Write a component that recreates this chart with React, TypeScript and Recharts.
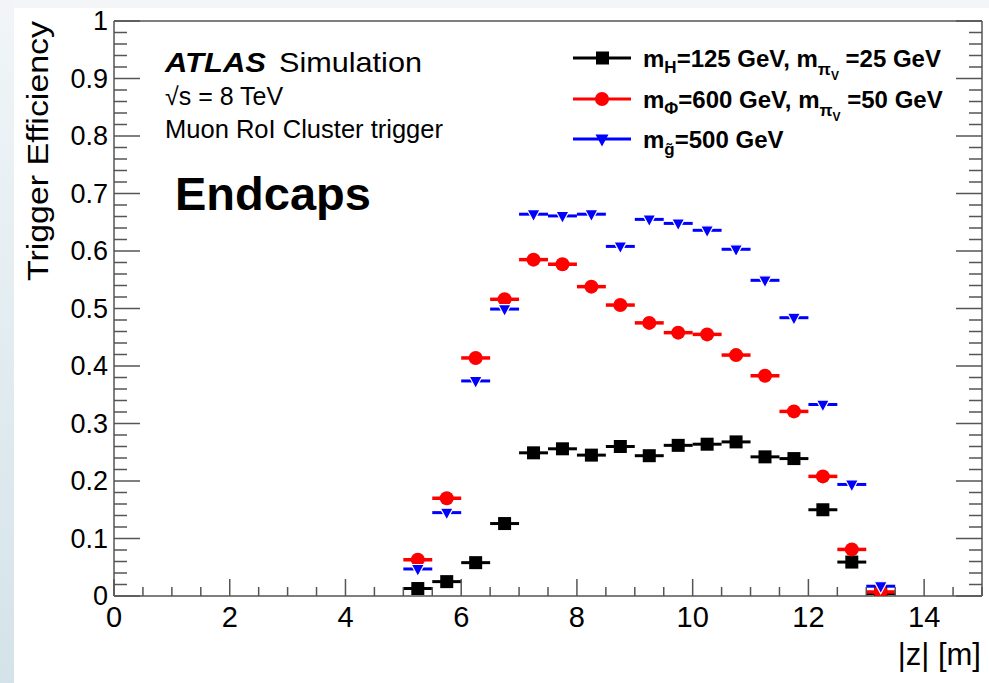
import React from "react";
import { ScatterChart, Scatter, XAxis, YAxis, ErrorBar } from "recharts";

// bin centres in |z| [m], bins are 0.5 m wide
const Z_BINS = [5.25, 5.75, 6.25, 6.75, 7.25, 7.75, 8.25, 8.75, 9.25, 9.75, 10.25, 10.75, 11.25, 11.75, 12.25, 12.75, 13.25];
const BIN_HALF = 0.25;

const EFF_HIGGS = [0.013, 0.025, 0.058, 0.126, 0.249, 0.256, 0.245, 0.26, 0.244, 0.262, 0.264, 0.268, 0.242, 0.239, 0.15, 0.059, 0.004];
const EFF_PHI = [0.063, 0.17, 0.414, 0.516, 0.585, 0.577, 0.538, 0.506, 0.475, 0.458, 0.455, 0.419, 0.383, 0.321, 0.208, 0.081, 0.007];
const EFF_GLUINO = [0.047, 0.145, 0.374, 0.499, 0.664, 0.661, 0.664, 0.608, 0.655, 0.648, 0.636, 0.603, 0.549, 0.484, 0.333, 0.194, 0.017];

const X_MAJOR = [0, 2, 4, 6, 8, 10, 12, 14];
const X_LABELS = ["0", "2", "4", "6", "8", "10", "12", "14"];
const Y_MAJOR = [0, 0.1, 0.2, 0.3, 0.4, 0.5, 0.6, 0.7, 0.8, 0.9, 1];
const Y_LABELS = ["0", "0.1", "0.2", "0.3", "0.4", "0.5", "0.6", "0.7", "0.8", "0.9", "1"];
const X_TICKS = Array.from({ length: 31 }, (_, i) => i * 0.5);
const Y_TICKS = Array.from({ length: 51 }, (_, i) => +(i * 0.02).toFixed(2));

const rows = (eff: number[]) => Z_BINS.map((z, i) => ({ z, eff: eff[i], ez: BIN_HALF }));
const higgs = rows(EFF_HIGGS);
const phi = rows(EFF_PHI);
const gluino = rows(EFF_GLUINO);

const FONT = "'Liberation Sans', Arial, sans-serif";
const AXIS = "#555";
const BLACK = "#000000";
const RED = "#ff0000";
const BLUE = "#0000ff";

const majorIndex = (list: number[], v: number) => list.findIndex((m) => Math.abs(m - v) < 1e-6);

function BottomTick({ x, y, payload }: any) {
  const i = majorIndex(X_MAJOR, payload.value);
  const len = i >= 0 ? 17 : 9;
  return (
    <g>
      <line x1={x} x2={x} y1={y} y2={y - len} stroke={AXIS} strokeWidth={1.5} />
      {i >= 0 && (
        <text x={x} y={y + 31} textAnchor="middle" fontSize={29} fontFamily={FONT} fill="#000">
          {X_LABELS[i]}
        </text>
      )}
    </g>
  );
}

function TopTick({ x, y, payload }: any) {
  const len = majorIndex(X_MAJOR, payload.value) >= 0 ? 17 : 9;
  return <line x1={x} x2={x} y1={y} y2={y + len} stroke={AXIS} strokeWidth={1.5} />;
}

function LeftTick({ x, y, payload }: any) {
  const i = majorIndex(Y_MAJOR, payload.value);
  const len = i >= 0 ? 26 : 13;
  return (
    <g>
      <line x1={x} x2={x + len} y1={y} y2={y} stroke={AXIS} strokeWidth={1.5} />
      {i >= 0 && (
        <text x={x - 6} y={y + 9} textAnchor="end" fontSize={27} fontFamily={FONT} fill="#000">
          {Y_LABELS[i]}
        </text>
      )}
    </g>
  );
}

function RightTick({ x, y, payload }: any) {
  const len = majorIndex(Y_MAJOR, payload.value) >= 0 ? 26 : 13;
  return <line x1={x} x2={x - len} y1={y} y2={y} stroke={AXIS} strokeWidth={1.5} />;
}

const square = (p: any) => <rect x={p.cx - 6.5} y={p.cy - 6.5} width={13} height={13} fill={BLACK} />;
const circle = (p: any) => <circle cx={p.cx} cy={p.cy} r={7} fill={RED} />;
const triangle = (p: any) => (
  <path
    d={`M${p.cx - 6.5},${p.cy - 4.5} L${p.cx + 6.5},${p.cy - 4.5} L${p.cx},${p.cy + 7.5} Z`}
    fill={BLUE}
    stroke="#fff"
    strokeWidth={1.2}
  />
);

function Overlay() {
  const sub = 17;
  return (
    <svg width={989} height={683} style={{ position: "absolute", left: 0, top: 0, pointerEvents: "none" }}>
      <g fontFamily={FONT} fill="#000">
        <text x={40} y={21} transform="rotate(-90 40 21)" textAnchor="end" fontSize={30}>
          <tspan x={40} dy={8} textLength={260} lengthAdjust="spacingAndGlyphs">Trigger Efficiency</tspan>
        </text>
        <text x={981} y={665} textAnchor="end" fontSize={31}>|z| [m]</text>

        <text x={165} y={72} fontSize={28} fontWeight="bold" fontStyle="italic" textLength={101} lengthAdjust="spacingAndGlyphs">ATLAS</text>
        <text x={279} y={72} fontSize={28} textLength={143} lengthAdjust="spacingAndGlyphs">Simulation</text>
        <text x={165} y={105} fontSize={25}>√s = 8 TeV</text>
        <text x={165} y={138} fontSize={25} textLength={278} lengthAdjust="spacingAndGlyphs">Muon RoI Cluster trigger</text>
        <text x={175} y={210} fontSize={47} fontWeight="bold">Endcaps</text>

        <g fontWeight="bold" fontSize={24}>
          <line x1={573} x2={631} y1={58} y2={58} stroke={BLACK} strokeWidth={3} />
          <rect x={596} y={51.5} width={13} height={13} fill={BLACK} />
          <text x={643} y={67}>
            m<tspan dy={6} fontSize={sub}>H</tspan>
            <tspan dy={-6}>=125 GeV, m</tspan>
            <tspan dy={8} fontSize={sub}>π</tspan>
            <tspan dy={5} fontSize={12}>V</tspan>
            <tspan dy={-13}> =25 GeV</tspan>
          </text>

          <line x1={573} x2={631} y1={99} y2={99} stroke={RED} strokeWidth={3} />
          <circle cx={602} cy={99} r={7} fill={RED} />
          <text x={643} y={108}>
            m<tspan dy={6} fontSize={sub}>Φ</tspan>
            <tspan dy={-6}>=600 GeV, m</tspan>
            <tspan dy={8} fontSize={sub}>π</tspan>
            <tspan dy={5} fontSize={12}>V</tspan>
            <tspan dy={-13}> =50 GeV</tspan>
          </text>

          <line x1={573} x2={631} y1={139} y2={139} stroke={BLUE} strokeWidth={3} />
          <path d="M595.5,134.5 L608.5,134.5 L602,146.5 Z" fill={BLUE} />
          <text x={643} y={148}>
            m<tspan dy={7} fontSize={sub}>g̃</tspan>
            <tspan dy={-7}>=500 GeV</tspan>
          </text>
        </g>
      </g>
    </svg>
  );
}

export default function App() {
  const axisLine = { stroke: AXIS, strokeWidth: 1.5 };
  return (
    <div style={{ position: "absolute", left: 0, top: 0, width: 989, height: 683, background: "#fff", overflow: "hidden" }}>
      <div style={{ position: "absolute", left: 0, top: 0, width: 989, height: 8, background: "#f3f5f6" }} />
      <div
        style={{
          position: "absolute",
          left: 0,
          top: 0,
          width: 14,
          height: 683,
          background: "linear-gradient(#f1f5f7, #d4e3e9)",
        }}
      />
      <div style={{ position: "absolute", left: 0, top: 0 }}>
        <ScatterChart width={989} height={683} margin={{ top: 20, right: 6, bottom: 86, left: 113 }}>
          <XAxis
            type="number"
            dataKey="z"
            domain={[0, 15]}
            ticks={X_TICKS}
            interval={0}
            height={1}
            tickSize={0}
            tickMargin={0}
            tickLine={false}
            axisLine={axisLine}
            tick={(p: any) => <BottomTick {...p} />}
            allowDataOverflow
          />
          <XAxis
            xAxisId="top"
            orientation="top"
            type="number"
            domain={[0, 15]}
            ticks={X_TICKS}
            interval={0}
            height={1}
            tickSize={0}
            tickMargin={0}
            tickLine={false}
            axisLine={axisLine}
            tick={(p: any) => <TopTick {...p} />}
            allowDataOverflow
          />
          <YAxis
            type="number"
            dataKey="eff"
            domain={[0, 1]}
            ticks={Y_TICKS}
            interval={0}
            width={1}
            tickSize={0}
            tickMargin={0}
            tickLine={false}
            axisLine={axisLine}
            tick={(p: any) => <LeftTick {...p} />}
            allowDataOverflow
          />
          <YAxis
            yAxisId="right"
            orientation="right"
            type="number"
            domain={[0, 1]}
            ticks={Y_TICKS}
            interval={0}
            width={1}
            tickSize={0}
            tickMargin={0}
            tickLine={false}
            axisLine={axisLine}
            tick={(p: any) => <RightTick {...p} />}
            allowDataOverflow
          />
          <Scatter data={higgs} dataKey="eff" fill={BLACK} shape={square} isAnimationActive={false}>
            <ErrorBar dataKey="ez" direction="x" width={0} stroke={BLACK} strokeWidth={3} />
          </Scatter>
          <Scatter data={phi} dataKey="eff" fill={RED} shape={circle} isAnimationActive={false}>
            <ErrorBar dataKey="ez" direction="x" width={0} stroke={RED} strokeWidth={3.5} />
          </Scatter>
          <Scatter data={gluino} dataKey="eff" fill={BLUE} shape={triangle} isAnimationActive={false}>
            <ErrorBar dataKey="ez" direction="x" width={0} stroke={BLUE} strokeWidth={3} />
          </Scatter>
        </ScatterChart>
      </div>
      <Overlay />
    </div>
  );
}
